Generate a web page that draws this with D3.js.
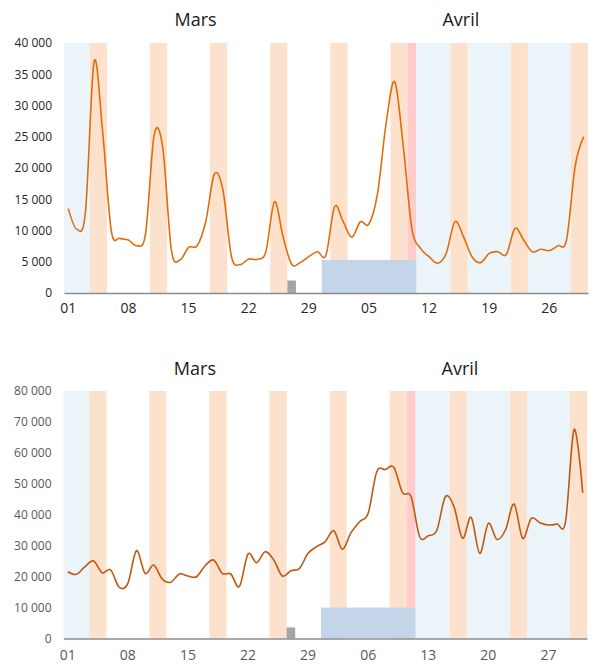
<!DOCTYPE html>
<html>
<head>
<meta charset="utf-8">
<script src="https://cdn.jsdelivr.net/npm/d3@7"></script>
<style>
  body { margin: 0; background: #fff; }
  svg text { font-family: "Open Sans", "Noto Sans", sans-serif; }
</style>
</head>
<body>
<svg id="chart" width="596" height="669"></svg>
<script>
// daily values, 1 March -> 30 April (61 days)
const topValues = [
  13500, 10200, 13000, 37000, 25800, 10000, 8750, 8480, 7570, 9550,
  25300, 23200, 6880, 5280, 7300, 7570, 11400, 19000, 16480, 5800,
  4550, 5440, 5390, 6610, 14600, 9010, 4590, 4860, 5810, 6610,
  6080, 13800, 11410, 8910, 11400, 11040, 15950, 27150, 33800, 23400,
  10300, 7150, 5810, 4750, 6350, 11400, 9010, 5810, 4860, 6350,
  6610, 6190, 10350, 8480, 6610, 6990, 6780, 7570, 8480, 20210, 25010
];
const bottomValues = [
  21590, 20750, 23210, 25050, 21270, 22140, 16550, 17840, 28380, 21070,
  23750, 19230, 18160, 20850, 20200, 19970, 23530, 25370, 21070, 20850,
  16800, 27310, 24500, 28060, 25370, 20200, 21920, 22680, 27530, 29680,
  31290, 34850, 28830, 34200, 37760, 40460, 53910, 54600, 55300, 47130,
  45830, 32900, 33230, 35000, 45830, 42600, 32380, 39170, 27530, 37230,
  32060, 35070, 43470, 32380, 38850, 37430, 36680, 37010, 37800, 67610, 47130
];

const topTickLabels = ["01", "08", "15", "22", "29", "05", "12", "19", "26"];
const bottomTickLabels = ["01", "08", "15", "22", "29", "06", "13", "20", "27"];
const tickDays = [0, 7, 14, 21, 28, 35, 42, 49, 56];
const monthLabels = ["Mars", "Avril"];

// shaded periods, [first day index, last day index]
const holidayPeriods = [[0, 2], [41, 44], [47, 51], [54, 58]];
const weekendPeriods = [[3, 4], [10, 11], [17, 18], [24, 25], [31, 32], [38, 39], [45, 46], [52, 53], [59, 60]];
const specialPeriods = [[40, 40]];
const blockPeriod = [30, 40];
const blockValues = [5300, 10000];
const markerDay = 26;
const markerValues = [2000, 3600];

const topTicksY = [0, 5000, 10000, 15000, 20000, 25000, 30000, 35000, 40000];
const bottomTicksY = [0, 10000, 20000, 30000, 40000, 50000, 60000, 70000, 80000];

const svg = d3.select("#chart");
const fmt = d3.formatLocale({ decimal: ",", thousands: " ", grouping: [3], currency: ["", ""] }).format(",d");

function panel(opts) {
  const x = d3.scaleBand()
              .domain(d3.range(opts.values.length))
              .range([opts.left, opts.right]);
  const y = d3.scaleLinear()
              .domain([0, opts.yMax])
              .range([opts.bottom, opts.top]);
  const g = svg.append("g");

  const band = (periods, color) => {
    g.selectAll(null)
     .data(periods)
     .enter()
     .append("rect")
     .attr("x", d => x(d[0]))
     .attr("y", opts.top)
     .attr("width", d => x(d[1]) + x.bandwidth() - x(d[0]))
     .attr("height", opts.bottom - opts.top)
     .attr("fill", color);
  };
  band(holidayPeriods, "#ebf5f9");
  band(weekendPeriods, "#fce2cd");
  band(specialPeriods, "#ffcbcb");

  g.append("rect")
   .attr("x", x(blockPeriod[0]))
   .attr("y", y(opts.block))
   .attr("width", x(blockPeriod[1]) + x.bandwidth() - x(blockPeriod[0]))
   .attr("height", opts.bottom - y(opts.block))
   .attr("fill", "#c4d4e9");

  g.append("rect")
   .attr("x", x(markerDay))
   .attr("y", y(opts.marker))
   .attr("width", x.bandwidth())
   .attr("height", opts.bottom - y(opts.marker))
   .attr("fill", "#a5a5a5");

  const line = d3.line()
                 .x((d, i) => x(i) + x.bandwidth() / 2)
                 .y(d => y(d))
                 .curve(d3.curveCatmullRom.alpha(0));
  g.append("path")
   .datum(opts.values)
   .attr("d", line)
   .attr("fill", "none")
   .attr("stroke", opts.lineColor)
   .attr("stroke-width", 1.6);

  const yAxis = g.append("g")
                 .attr("transform", `translate(${opts.left},0)`)
                 .call(d3.axisLeft(y).tickValues(opts.yTicks).tickFormat(fmt).tickSize(0).tickPadding(12));
  yAxis.select(".domain").remove();
  yAxis.selectAll("text")
       .attr("font-size", 12)
       .attr("fill", opts.textColor)
       .style("font-family", '"Open Sans", sans-serif');

  const xAxis = g.append("g")
                 .attr("transform", `translate(0,${opts.bottom})`)
                 .call(d3.axisBottom(x).tickValues(tickDays).tickFormat((d, i) => opts.tickLabels[i]).tickSize(0).tickPadding(opts.xPad));
  xAxis.select(".domain").attr("stroke", "#8c8c8c").attr("stroke-width", 1.3);
  xAxis.selectAll("text")
       .attr("font-size", 14)
       .attr("fill", opts.textColor)
       .style("font-family", '"Open Sans", sans-serif');

  g.selectAll(null)
   .data(monthLabels)
   .enter()
   .append("text")
   .attr("x", (d, i) => i === 0 ? x(14) + x.bandwidth() / 2 + 7 : x(45) + x.bandwidth() / 2 + 6)
   .attr("y", opts.titleY)
   .attr("text-anchor", "middle")
   .attr("font-size", 18)
   .attr("fill", "#1a1a1a")
   .text(d => d);
}

panel({
  values: topValues, yMax: 40000, yTicks: topTicksY, tickLabels: topTickLabels,
  left: 64, right: 588, top: 43, bottom: 293, block: blockValues[0], marker: markerValues[0],
  lineColor: "#e36c0a", textColor: "#262626", titleY: 26, xPad: 10
});
panel({
  values: bottomValues, yMax: 80000, yTicks: bottomTicksY, tickLabels: bottomTickLabels,
  left: 63.5, right: 587, top: 391, bottom: 638.5, block: blockValues[1], marker: markerValues[1],
  lineColor: "#c0580f", textColor: "#595959", titleY: 375, xPad: 12
});
</script>
</body>
</html>
